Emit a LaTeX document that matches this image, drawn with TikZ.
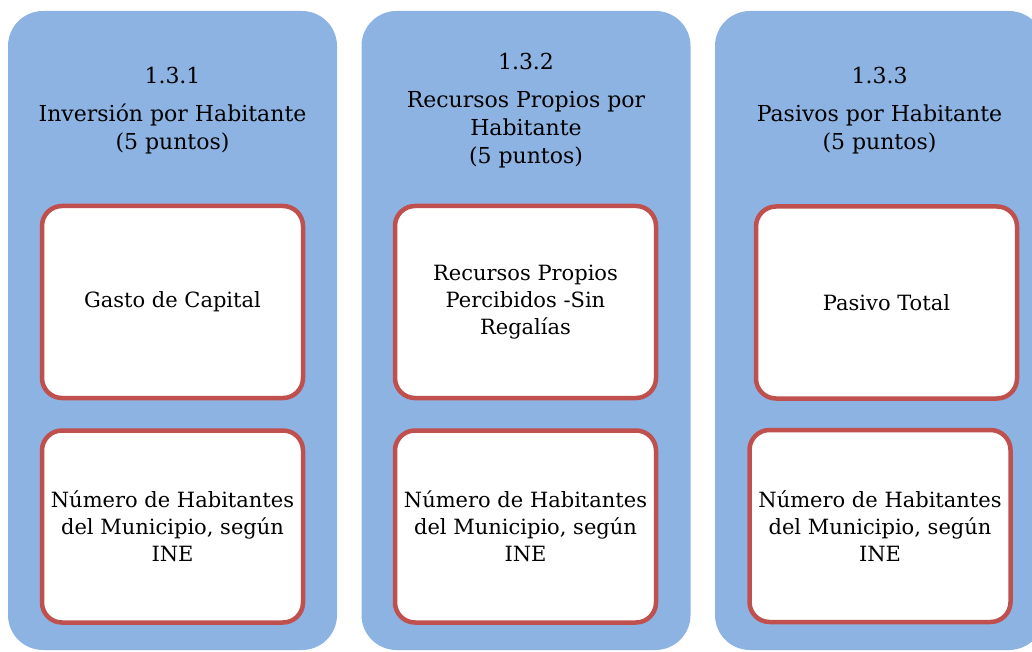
\documentclass[tikz,border=0pt]{standalone}
\usepackage{fontspec}
\setmainfont{DejaVu Serif}
\definecolor{colBlue}{RGB}{141,179,226}
\definecolor{boxRed}{RGB}{192,80,77}

\begin{document}
\begin{tikzpicture}[x=1pt, y=-1pt]
  \tikzstyle{column} = [rectangle, fill=colBlue, minimum width=329pt, minimum height=639pt, rounded corners=35pt, inner sep=0pt]
  \tikzstyle{card} = [rectangle, draw=boxRed, line width=4.5pt, fill=white, minimum width=261pt, minimum height=192pt, rounded corners=20pt, align=center, font=\fontsize{21}{27}\selectfont]
  \tikzstyle{heading} = [align=center, font=\fontsize{22}{28}\selectfont]

  \useasboundingbox (0,0) rectangle (1032,652);
  \clip (0,0) rectangle (1032,652);

  % columns
  \node[column] (colA) at (172.5, 330.5) {};
  \node[column] (colB) at (526, 330.5) {};
  \node[column] (colC) at (879.5, 330.5) {};

  % headings
  \node[heading] (headA) at (172.5, 110.5) {1.3.1\\[10pt]Inversión por Habitante\\(5 puntos)};
  \node[heading] (headB) at (526, 110.5) {1.3.2\\[10pt]Recursos Propios por\\Habitante\\(5 puntos)};
  \node[heading] (headC) at (879.5, 110.5) {1.3.3\\[10pt]Pasivos por Habitante\\(5 puntos)};

  % upper cards
  \node[card] (gasto) at (172.5, 302) {Gasto de Capital};
  \node[card] (recursos) at (525.5, 302) {Recursos Propios\\Percibidos -Sin\\Regalías};
  \node[card] (pasivo) at (886.5, 302.5) {Pasivo Total};

  % lower cards
  \node[card] (habA) at (172.5, 526.5) {Número de Habitantes\\del Municipio, según\\INE};
  \node[card] (habB) at (525.5, 526.5) {Número de Habitantes\\del Municipio, según\\INE};
  \node[card] (habC) at (880, 526) {Número de Habitantes\\del Municipio, según\\INE};
\end{tikzpicture}
\end{document}
